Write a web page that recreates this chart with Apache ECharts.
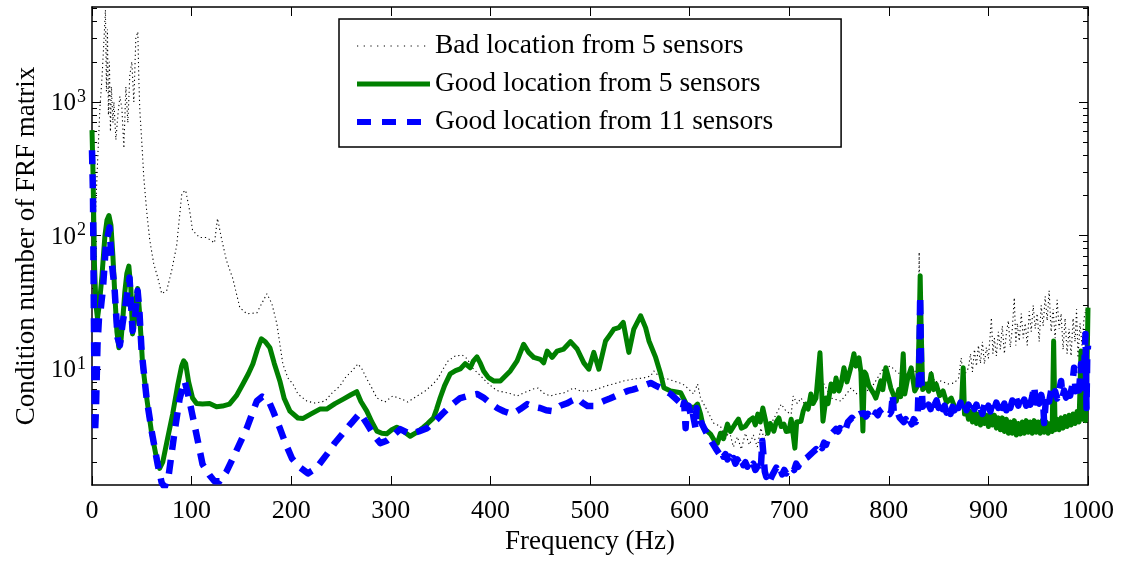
<!DOCTYPE html>
<html>
<head>
<meta charset="utf-8">
<script src="https://cdn.jsdelivr.net/npm/echarts@6/dist/echarts.min.js"></script>
<style>
html,body{margin:0;padding:0;background:#fff;}
#chart{width:1126px;height:563px;}
</style>
</head>
<body>
<div id="chart"></div>
<script>
// ---- Data ----
const seriesNames = ['Bad location from 5 sensors', 'Good location from 5 sensors', 'Good location from 11 sensors'];

const badFreq = [0,2.5,4,6,8,10,12,13.5,14.5,15.5,16.5,17.5,18.5,19.5,21,22,24,26,28,30,32,34,36,38,40,42,44,46,47,48,50,52,55,58,62,66,70,75,80,85,90.2,94,98,101,108,115,123,126,130,135,141.4,148.4,155.4,165.5,175.6,180.6,185.6,188.6,191.6,196.7,201.7,206.7,215.8,223.8,233.9,241,249,254,261,267,271,276,281,286,294,302,311,317,326.5,334.5,342.6,347.6,352.6,357.6,364.7,371.7,376.8,381.8,390,396,403,408,418,427,433,443,448,453,460,467,473.5,483.5,490.5,500.5,507.5,515.6,523.6,533.7,543.8,553.8,561,564,571,578,584,593,598,604,608,611,618,624,631,636,640,644,648,652,656,660,664,668,671.5,675,679,685,692,697,702,704,708,712,719,725,735,742,752,762,768,775,785,795,802,809,819,826,829.5,830.5,831.5,835.6,842.6,846,852.6,859.6,865.6,870,872.7,874.7,878,880,882,884,886,888,890,892,894,896,898,900,902,903,904.5,906,908,910,912,914,916,918,920,922,924,926,927.5,929,931,933,935,937,939,941,943,945,947,949,951,953,955,957,959,961,963,965,967,969,971,973,975,977,979,981,983,985,987,988.5,990,992,994,996,998,1000];
const badCond = [80,103,180,421,916,1500,2900,4900,1200,3500,800,2000,600,1300,700,1000,520,800,1100,900,450,1300,700,1600,2000,1000,3000,3360,1500,871,500,273,149,92,61.5,48.3,36.6,38.6,54.6,84,207,218,154,109,96.6,96.6,88,134,95,64.9,47.5,28.8,25.9,26.3,36.6,30.8,21.8,15.4,10.9,8.55,7.71,6.49,5.74,5.55,5.74,6.6,7.45,8.55,9.66,10.9,10,8.4,7.19,6.05,5.65,6.27,5.94,5.65,6.27,6.84,7.71,8.55,10,11.5,12.5,12.7,11.9,10.2,8.9,8,7.19,6.84,6.6,6.27,6.6,7.07,7.19,6.6,6.27,6.49,6.6,7.19,6.84,6.84,7.07,7.45,7.71,8.13,8.4,8.55,8.86,9.66,8.55,8.4,8.13,7.71,7.19,6.49,7.71,6.05,4.83,3.93,3.72,3.0,3.4,2.6,3.1,2.5,3.3,2.7,3.2,2.6,3.6,3.0,3.6,4.29,5.45,4.8,4.59,6.27,5.5,6.05,4.83,6.6,7.71,6.05,5.74,7.19,6.5,6.49,7.71,10.2,10.5,9.3,9.17,9.5,10.2,75,12,6.84,9.66,8,8.13,7.71,7.85,8.5,12.1,8.9,9.5,10.2,13,9.5,14,10.5,15,11,16,10.9,14.5,12,19,24.2,13,17,12.5,19,14,21,13,18.3,23,14.5,20,34.2,15,22,16.2,26,17,22,15,27,19,30,20,26,16,30,21,35,23,38.6,19,28,17,33,20,26,14,24,13,20,12.5,24,16,28,12.1,22,15,24,28,14.4];

const good5Freq = [0,1,2.5,4,5.5,7.5,10,13,15,17,19,21,23,25,27,29,31,33,35,37,39,40.7,42.5,44,45.8,47.5,50.8,55,59.6,64,67.9,71,75,81,86,90,92,94,97,101,105,111,118,125,131,138,145,151.5,157,161.5,166,170,174,178.6,183,188.6,193,198.7,206.7,212,220,228.8,235.6,244,252.3,260,265.8,270,275.9,281,286,291,296,301,306,313,319.4,326,332.8,337,342.9,346,349.6,354,359.6,365,369.7,374.7,379.8,383,386.5,390,393.2,398,403.2,410,420,426.8,433.4,438.4,443.5,450.2,453.5,457,462,467,473.6,480.4,487.1,493.8,498.8,503.8,508.9,515.6,520,524,529,533.4,539,544,550.8,555.8,559.2,565.9,571,574.2,581,591,597.8,604.4,608,611,614,618,621,625,628,631,634,638,641,643,646,649,652,656,660,663.5,666,668.5,671,673.5,676,678.6,681,684.6,687,689.6,692,694.7,697,699.7,702,703.7,705.7,707.5,711.8,714,716.8,719,721.8,724,726.9,730.9,733.9,736.9,739,742,745,747,750,752,755,758,760,763,765,767,770,772,774,775.5,777,780,782,785,787,790,792,794,797,799,802,805,807.5,810,812,814.5,816,819,822.5,826,829,830.5,831.5,832.5,834,837.5,840,842.5,845,847.5,851,854.5,858,862.7,866,869.7,873,874.7,876,878,880,882,884,886,888,890,892,894,896,898,900,902,904,906,908,910,912,914,916,918,920,922,924,926,928,930,932,934,936,938,940,942,944,946,948,950,952,954,956,958,960,962,964,965.5,967,969,971,973,975,977,979,981,983,985,987,989,991,993,994.5,996,997.5,999,1000];
const good5Cond = [615,300,60,30,24,31,50,100,130,141,120,70,35,19,14.4,16,24,38,52,59,40,18.3,22,32,40,28,10.9,6,3.42,2.3,1.8,2.0,2.8,4.6,7.5,10.5,11.5,11,8,6.05,5.5,5.45,5.5,5.2,5.27,5.45,6.3,7.7,9.2,10.9,14,16.8,16,14.4,11,8.13,6,4.83,4.29,4.26,4.6,5.0,5.0,5.5,5.94,6.4,6.75,5.7,4.83,4.0,3.42,3.3,3.27,3.5,3.66,3.4,3.13,3.35,3.66,3.9,4.3,5.0,6.08,7.5,9.17,9.7,10,10.96,10.2,11.5,12.3,11,9.66,8.6,8.13,8.13,9.66,11.5,15.3,13.3,12.2,11.8,11.1,13.6,12.2,13.6,14.1,16.0,14.1,11.1,9.95,13.3,9.95,16.2,18,19.9,20.4,22.3,13.3,19.9,25.0,20.4,16.2,12.2,9.12,7.23,6.84,6.63,5.27,5.12,5.45,4.6,3.6,3.4,3.25,2.9,2.78,3.3,3.0,3.86,3.4,3.3,3.9,4.21,3.6,3.72,4.1,4.29,3.8,4.59,4.0,5.09,4.2,3.3,3.9,3.42,4.0,4.29,3.7,3.86,3.4,3.42,4.2,4.06,2.55,4.0,4.06,4.8,5.45,5.0,6.49,5.5,6.05,13.2,4.06,6.05,5.5,7.71,6.8,8.55,6.84,7.6,10.2,8.0,8.13,11,13.0,10.5,12.1,9.5,3.42,9.5,9.17,7.5,7.71,6.5,6.05,7.2,8.13,7.0,10.2,9.0,7.19,6.3,5.74,7.0,6.2,13.0,6.49,8.5,10.2,6.84,7.5,20,50,20,7.0,7.71,6.8,9.17,7.0,7.71,6.3,6.84,5.6,6.05,5.2,5.09,5.5,10.2,4.59,5.0,4.2,4.8,4.0,4.9,3.9,4.6,3.8,4.7,3.9,4.5,3.7,4.6,3.8,4.5,3.6,4.3,3.5,4.3,3.4,4.2,3.3,4.0,3.3,4.1,3.2,3.9,3.25,4.0,3.3,4.1,3.35,4.0,3.3,4.1,3.35,4.0,3.3,4.1,3.35,4.0,3.3,3.9,3.4,16.2,3.5,4.2,3.5,4.3,3.6,4.4,3.7,4.5,3.8,4.6,3.9,4.8,4.0,13.6,4.2,4.9,4.1,10,28.8];

const good11Freq = [0,1,2,3,4,5.5,7,8.6,11,14,17.6,19.6,22.6,25.7,28,30.7,34.7,37.7,40.7,43,45.8,47.5,49.8,54.8,59.9,65.9,70,73,77,83,88,93,97,100,105,111,118,123,128,135,143.4,155.4,165.5,171,176.6,182,188.6,194,200.7,208,216.8,225,235.9,244,252,260,269.1,276.2,283,289.3,296,303,309.4,319.4,328,336.5,345,352.6,360,369.7,378,386.8,393,399.9,407,414,422,430,437,443,450,456,462,470,477.4,482,487.4,492,497.5,503.5,508,513.6,520,525.7,531,537.7,543,547.8,554,560.9,566,571,576,581,586,591,593,594.5,596,597,599,601,602.5,604,606,607,609,611,613,614.5,616,618,620,622,624,626,628,630,632,634,636,638,640,642,644,646,648,650,652,654,656,658,660,662,664,666,668,670,671.5,673,674.5,675.5,677,679,681,683,685,687,689,691,693,695,697,699,701,703,705,707,709,711,713,715,717,719,721,723,725,727,729,731,733,735,737,739,741,743,745,747,749,751,753,755,757,759,761,763,765,767,769,771,773,775,777,779,781,783,785,787,789,791,793,795,797,799,801,802.5,804,805,807,809,811,813,815,817,819,821,823,825,827,829,830.5,831.5,832.5,834,836,838,840,842,844,846,848,850,852,854,856,858,860,862,864,866,868,870,872,874,876,878,880,882,884,886,888,890,892,894,896,898,900,902,904,906,908,910,912,914,916,918,920,922,924,926,928,930,932,934,936,938,940,942,944,946,947.5,949,951,953,955,956,957.5,959,961,963,965,967,969,971,973,974.5,976,978,980,982,984,986,987.5,989,991,993,994.5,996,997.5,998.5,999.2,1000];
const good11Cond = [435,200,20,3.3,5,15,24,27.3,40,85,115,64.9,40.6,17.1,15,21.8,34.2,48.3,19.3,24,38.6,28,13.6,6.05,3.42,1.93,1.4,1.3,1.6,3.42,6,8.13,6.2,4.83,3.2,1.93,1.6,1.44,1.44,1.7,2.30,3.60,5.74,6.2,5.94,4.8,3.60,2.8,2.14,1.85,1.65,1.8,2.30,2.8,3.30,3.9,4.67,3.86,3.2,2.78,2.9,3.2,3.54,3.25,3.4,3.60,4.1,4.67,5.3,6.05,6.3,6.49,6.1,5.54,5.09,4.8,4.59,5.0,5.45,5.2,5.09,4.9,4.83,5.3,5.54,5.8,6.05,5.6,5.27,5.27,5.5,5.74,6.0,6.27,6.5,6.84,7.0,7.19,7.5,7.85,7.5,7.19,6.8,6.49,6.0,5.54,5.0,5.6,3.6,5.0,5.3,4.6,5.0,4.3,3.6,5.1,4.6,4.06,4.2,3.6,3.7,3.2,3.3,2.85,2.9,2.55,2.6,2.3,2.45,2.2,2.3,2.1,2.2,2.0,2.15,1.95,2.1,1.95,2.1,1.9,2.0,1.85,2.0,1.85,1.95,1.75,1.85,1.68,1.8,2.88,2.88,1.7,1.55,1.65,1.48,1.6,1.55,1.82,1.7,1.8,1.62,1.75,1.65,1.75,1.7,1.85,1.75,1.95,1.85,2.0,1.95,2.1,2.05,2.2,2.15,2.35,2.3,2.5,2.4,2.65,2.55,2.8,2.7,3.0,2.95,3.3,3.3,3.55,3.4,3.6,3.45,3.75,3.6,4.0,3.9,4.3,4.1,4.45,4.3,4.6,4.45,4.65,4.4,4.6,4.35,4.55,4.35,4.7,4.5,4.85,4.7,5.1,4.85,5.0,4.6,4.8,6.49,4.7,4.5,4.7,4.3,4.45,4.0,4.2,3.8,4.1,3.85,4.2,4.0,4.4,10,35.4,9,5.2,5.6,5.0,5.4,5.0,6.0,5.4,5.8,5.1,5.6,5.0,5.3,4.7,5.1,4.6,5.2,4.9,5.6,5.1,5.6,5.0,5.5,4.9,5.4,5.0,5.6,5.0,5.4,4.7,5.1,4.6,5.4,4.9,5.3,4.8,5.6,5.0,5.6,5.1,5.7,5.1,5.5,4.9,5.5,5.1,5.8,5.2,6.0,5.3,6.1,5.4,5.9,5.3,6.0,5.4,6.2,7.45,5.6,6.1,5.5,6.4,5.5,3.93,5.6,6.5,5.7,6.9,6.0,6.8,6.0,6.9,8.13,6.2,6.9,6.1,7.0,6.3,7.4,10.2,6.8,8.0,6.9,10.9,7.2,9.5,18.3,5.09,12,15];

// axis settings
const xMin = 0, xMax = 1000, xStep = 100;
const yMin = 1.35, yMax = 5150;
const yMajorTicks = [10, 100, 1000];
const yMinorTicks = [2,3,4,5,6,7,8,9,20,30,40,50,60,70,80,90,200,300,400,500,600,700,800,900,2000,3000,4000,5000];

function zip(f, v) { return f.map((x, i) => [x, v[i]]); }

const FONT = "'Liberation Serif','Times New Roman','DejaVu Serif',serif";
const chart = echarts.init(document.getElementById('chart'), null, {renderer: 'canvas'});

const logAxisBase = {
  type: 'log', logBase: 10, min: yMin, max: yMax,
  splitLine: {show: false}, minorSplitLine: {show: false}
};

const option = {
  animation: false,
  backgroundColor: '#fff',
  grid: {left: 92, right: 38, top: 7, bottom: 78, containLabel: false},
  legend: {
    left: 339, top: 19,
    orient: 'vertical',
    data: [
      {name: seriesNames[0], lineStyle: {width: 1.2, type: [1.2, 5.5], color: '#000'}},
      {name: seriesNames[1], lineStyle: {width: 5, color: '#008000'}},
      {name: seriesNames[2], lineStyle: {width: 6, type: [14, 11], color: '#0000ff'}}
    ],
    itemWidth: 73, itemHeight: 14, itemGap: 8,
    padding: [12, 68, 10, 15],
    borderColor: '#000', borderWidth: 1.5, backgroundColor: '#fff',
    itemStyle: {opacity: 0},
    textStyle: {fontFamily: FONT, fontSize: 27.5, color: '#000', lineHeight: 30},
    selectedMode: false
  },
  xAxis: [
    {
      type: 'value', min: xMin, max: xMax, interval: xStep, position: 'bottom',
      name: 'Frequency (Hz)', nameLocation: 'middle', nameGap: 42,
      nameTextStyle: {fontFamily: FONT, fontSize: 27, color: '#000'},
      axisLine: {show: true, lineStyle: {color: '#000', width: 1.5}},
      axisTick: {show: true, inside: true, length: 9, lineStyle: {color: '#000', width: 1}},
      axisLabel: {fontFamily: FONT, fontSize: 26, color: '#000', margin: 13, formatter: function (v) { return String(v); }},
      splitLine: {show: false}
    },
    {
      type: 'value', min: xMin, max: xMax, interval: xStep, position: 'top',
      axisLine: {show: true, lineStyle: {color: '#000', width: 1.5}},
      axisTick: {show: true, inside: true, length: 9, lineStyle: {color: '#000', width: 1}},
      axisLabel: {show: false},
      splitLine: {show: false}
    }
  ],
  yAxis: [
    Object.assign({}, logAxisBase, {
      position: 'left',
      name: 'Condition number of FRF matrix', nameLocation: 'middle', nameGap: 50,
      nameTextStyle: {fontFamily: FONT, fontSize: 27, color: '#000'},
      axisLine: {show: true, lineStyle: {color: '#000', width: 1.5}},
      axisTick: {show: true, inside: true, length: 9, customValues: yMajorTicks, lineStyle: {color: '#000', width: 1}},
      axisLabel: {
        customValues: yMajorTicks, margin: 6, color: '#000',
        formatter: function (v) { return '{b|10}{s|' + Math.round(Math.log10(v)) + '}'; },
        rich: {
          b: {fontFamily: FONT, fontSize: 25, color: '#000', lineHeight: 28, verticalAlign: 'bottom'},
          s: {fontFamily: FONT, fontSize: 18, color: '#000', verticalAlign: 'top', padding: [0, 0, 0, 1]}
        }
      }
    }),
    Object.assign({}, logAxisBase, {
      position: 'left',
      axisLine: {show: false},
      axisTick: {show: true, inside: true, length: 5, customValues: yMinorTicks, lineStyle: {color: '#000', width: 1}},
      axisLabel: {show: false}
    }),
    Object.assign({}, logAxisBase, {
      position: 'right',
      axisLine: {show: true, lineStyle: {color: '#000', width: 1.5}},
      axisTick: {show: true, inside: true, length: 9, customValues: yMajorTicks, lineStyle: {color: '#000', width: 1}},
      axisLabel: {show: false}
    }),
    Object.assign({}, logAxisBase, {
      position: 'right',
      axisLine: {show: false},
      axisTick: {show: true, inside: true, length: 5, customValues: yMinorTicks, lineStyle: {color: '#000', width: 1}},
      axisLabel: {show: false}
    })
  ],
  series: [
    {
      name: seriesNames[0], type: 'line', xAxisIndex: 0, yAxisIndex: 0,
      data: zip(badFreq, badCond), showSymbol: false, symbol: 'none', clip: true,
      lineStyle: {color: '#000', width: 1.1, type: [1.2, 3]},
      itemStyle: {color: '#000'}, z: 2
    },
    {
      name: seriesNames[1], type: 'line', xAxisIndex: 0, yAxisIndex: 0,
      data: zip(good5Freq, good5Cond), showSymbol: false, symbol: 'none', clip: true,
      lineStyle: {color: '#008000', width: 5, join: 'round'},
      itemStyle: {color: '#008000'}, z: 3
    },
    {
      name: seriesNames[2], type: 'line', xAxisIndex: 0, yAxisIndex: 0,
      data: zip(good11Freq, good11Cond), showSymbol: false, symbol: 'none', clip: true,
      lineStyle: {color: '#0000ff', width: 6.5, type: [14, 10], join: 'round'},
      itemStyle: {color: '#0000ff'}, z: 4
    }
  ]
};
chart.setOption(option);
</script>
</body>
</html>
